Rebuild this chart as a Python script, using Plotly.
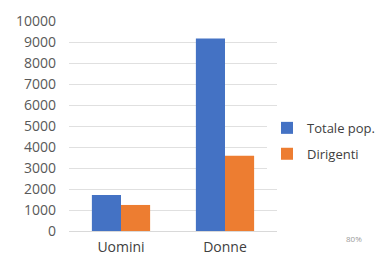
import plotly.graph_objects as go

categories = ["Uomini", "Donne"]
totale_pop = [1710, 9170]
dirigenti = [1240, 3580]
series_names = ["Totale pop.", "Dirigenti"]
y_ticks = list(range(0, 10001, 1000))
y_tick_labels = [str(v) for v in y_ticks]

# page body has an 8px default margin, so the figure is 8px smaller
W, H = 386 - 8, 264 - 8
L, T = 61, 13
PW, PH = 208, 210

fig = go.Figure()
fig.add_trace(go.Bar(x=categories, y=totale_pop, name=series_names[0],
                     marker=dict(color="#4472C4", line=dict(width=0)), legendgroup="a"))
fig.add_trace(go.Bar(x=categories, y=dirigenti, name=series_names[1],
                     marker=dict(color="#ED7D31", line=dict(width=0)), legendgroup="b"))

fig.update_layout(
    width=W, height=H,
    margin=dict(l=L, r=W - L - PW, t=T, b=H - T - PH, autoexpand=False),
    paper_bgcolor="white", plot_bgcolor="white",
    barmode="group", bargap=0.44, bargroupgap=0,
    font=dict(family="Open Sans", size=14, color="#595959"),
    legend=dict(x=0.952, y=0.429, xanchor="left", yanchor="middle",
                font=dict(size=13, color="#404040"), tracegroupgap=6,
                itemwidth=30),
    xaxis=dict(showgrid=False, showline=True, linecolor="#d9d9d9", ticks="",
               tickfont=dict(size=14, color="#404040"), ticklabelstandoff=3),
    yaxis=dict(range=[0, 10000], tickvals=y_ticks, ticktext=y_tick_labels,
               showgrid=True, gridcolor="#e0e0e0", zeroline=False,
               tickfont=dict(size=14, color="#595959"),
               ticks="", ticklabelstandoff=12),
    annotations=[dict(text="80%", xref="paper", yref="paper",
                      x=(346 - L) / PW, y=(T + PH - 230) / PH,
                      xanchor="center", yanchor="middle",
                      showarrow=False, font=dict(size=8, color="#9a9a9a"))],
)
fig.write_html("out.html")
